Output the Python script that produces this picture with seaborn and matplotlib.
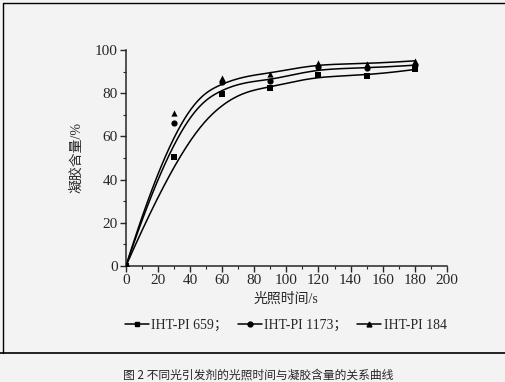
import numpy as np
import pandas as pd
import seaborn as sns
import matplotlib.pyplot as plt
from matplotlib.lines import Line2D
from matplotlib.ticker import MultipleLocator

# data
time_s = [0, 30, 60, 90, 120, 150, 180]
pi659 = [0, 50.5, 79.5, 82.5, 88.5, 88.0, 91.0]
pi1173 = [0, 66.0, 85.0, 85.5, 92.0, 91.5, 93.0]
pi184 = [0, 71.0, 87.0, 89.0, 94.0, 93.5, 95.0]
names = ['IHT-PI 659', 'IHT-PI 1173', 'IHT-PI 184']
markers = ['s', 'o', '^']

sns.set_style('ticks')
plt.rcParams['font.family'] = ['Liberation Serif', 'Noto Sans CJK SC']
plt.rcParams['xtick.direction'] = 'out'
plt.rcParams['ytick.direction'] = 'out'

bg = '#f3f3f3'
fig = plt.figure(figsize=(5.06, 3.82), dpi=100, facecolor=bg)
ax = fig.add_axes([0.249, 0.304, 0.634, 0.565], facecolor=bg)


def bspline(x, y, n=200):
    # clamped uniform cubic B-spline using the data points as control points
    P = np.column_stack([x, y]).astype(float)
    k = 3
    m = len(P)
    inner = np.arange(1, m - k)
    knots = np.concatenate([np.zeros(k + 1), inner, np.full(k + 1, m - k)])
    us = np.linspace(0, m - k, n)
    out = []
    for u in us:
        N = np.array([1.0 if knots[i] <= u < knots[i + 1] else 0.0
                      for i in range(len(knots) - 1)])
        if u == knots[-1]:
            N[m - 1] = 1.0
        for d in range(1, k + 1):
            Nn = np.zeros(len(knots) - 1 - d)
            for i in range(len(Nn)):
                a = 0.0
                if knots[i + d] != knots[i]:
                    a = (u - knots[i]) / (knots[i + d] - knots[i]) * N[i]
                b = 0.0
                if knots[i + d + 1] != knots[i + 1]:
                    b = (knots[i + d + 1] - u) / (knots[i + d + 1] - knots[i + 1]) * N[i + 1]
                Nn[i] = a + b
            N = Nn
        out.append(N[:m] @ P)
    out = np.array(out)
    return out[:, 0], out[:, 1]


for ys, name, m in zip([pi659, pi1173, pi184], names, markers):
    xs, fy = bspline(time_s, ys)
    sns.lineplot(x=xs, y=fy, ax=ax, color='black', lw=1.1, sort=False)
    df = pd.DataFrame({'t': time_s, 'v': ys})
    sns.scatterplot(data=df, x='t', y='v', ax=ax, marker=m, color='black',
                    s=20, edgecolor='black', linewidth=0, zorder=3)

ax.set_xlim(0, 200)
ax.set_ylim(0, 100)
ax.xaxis.set_major_locator(MultipleLocator(20))
ax.xaxis.set_minor_locator(MultipleLocator(10))
ax.yaxis.set_major_locator(MultipleLocator(20))
ax.yaxis.set_minor_locator(MultipleLocator(10))
ax.tick_params(which='major', length=4, width=1, labelsize=11, pad=2)
ax.tick_params(which='minor', length=2, width=0.8)
for s in ['top', 'right']:
    ax.spines[s].set_visible(False)
for s in ['left', 'bottom']:
    ax.spines[s].set_linewidth(1.1)
ax.set_xlabel('光照时间/s', fontsize=10, labelpad=4)
ax.set_ylabel('凝胶含量/%', fontsize=10, labelpad=8)

handles = [Line2D([], [], color='black', marker=m, markersize=3.5, lw=1.1)
           for m in markers]
labels = ['IHT-PI 659；', 'IHT-PI 1173；', 'IHT-PI 184']
fig.legend(handles, labels, loc='center', bbox_to_anchor=(0.565, 0.147),
           ncol=3, frameon=False, fontsize=10, handlelength=1.7,
           handletextpad=0.2, columnspacing=0.7)

fig.add_artist(Line2D([0.0, 1.0], [0.076, 0.076], color='black', lw=1.2))
fig.add_artist(Line2D([0.006, 0.006], [0.076, 0.992], color='black', lw=1))
fig.add_artist(Line2D([0.006, 1.0], [0.992, 0.992], color='black', lw=1))
fig.text(0.51, 0.018, '图 2 不同光引发剂的光照时间与凝胶含量的关系曲线',
         ha='center', va='center', fontsize=8.5,
         family=['Noto Sans CJK SC', 'DejaVu Sans'])

fig.savefig('out.png', dpi=100, facecolor=bg)
